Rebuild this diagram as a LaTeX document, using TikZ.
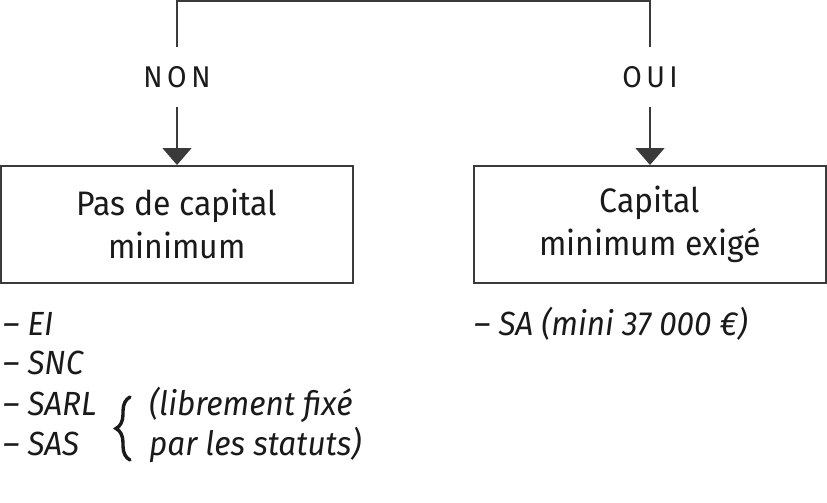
\documentclass[tikz,border=0pt]{standalone}
\usepackage{fontspec}
\setmainfont{Fira Sans}[FakeStretch=0.94]
\usetikzlibrary{arrows.meta,decorations.pathreplacing}
\definecolor{linegray}{HTML}{3A3A3A}
\definecolor{textblack}{HTML}{1A1A1A}
\begin{document}
\begin{tikzpicture}[x=1pt,y=-1pt,
  every node/.style={text=textblack},
  box/.style={draw=linegray, line width=1.5pt, minimum width=352pt, minimum height=117pt,
    anchor=north, inner sep=0pt, align=center, font=\fontsize{34}{43}\selectfont},
  answer/.style={minimum height=60pt, inner sep=0pt, font=\fontsize{30}{36}\selectfont\addfontfeatures{LetterSpace=15}},
  conn/.style={draw=linegray, line width=1.5pt},
  arrow/.style={conn, -{Triangle[width=29pt,length=17pt]}},
  item/.style={anchor=base west, inner sep=0pt, font=\fontsize{33.5}{40}\selectfont\itshape},
  bracestyle/.style={draw=textblack, line width=3.4pt, line cap=round, decorate, decoration={brace, amplitude=14pt, aspect=0.5}}
]
\useasboundingbox (0,0) rectangle (827,503);
% answers
\node[answer] (non) at (177,77) {NON};
\node[answer] (oui) at (650,77) {OUI};
\coordinate (top) at (413,1);
\draw[conn] (non.north) |- (top) -| (oui.north);
% boxes
\node[box] (b1) at (177,165) {Pas de capital\\minimum};
\node[box] (b2) at (650,165) {Capital\\minimum exigé};
\draw[arrow] (non.south) -- (b1.north);
\draw[arrow] (oui.south) -- (b2.north);
% left list
\node[item] (ei) at (3,335) {– EI};
\node[item] (snc) at (3,374.5) {– SNC};
\node[item] (sarl) at (3,415) {– SARL};
\node[item] (sas) at (3,455) {– SAS};
\node[item] (lib) at (149,415) {(librement fixé};
\node[item] (par) at (149,455) {par les statuts)};
\coordinate (brtop) at (130,397);
\coordinate (brbot) at (130,460);
\draw[bracestyle] (brbot) -- (brtop);
% right list
\node[item] (sa) at (474,335) {– SA (mini 37 000 €)};
\end{tikzpicture}
\end{document}
